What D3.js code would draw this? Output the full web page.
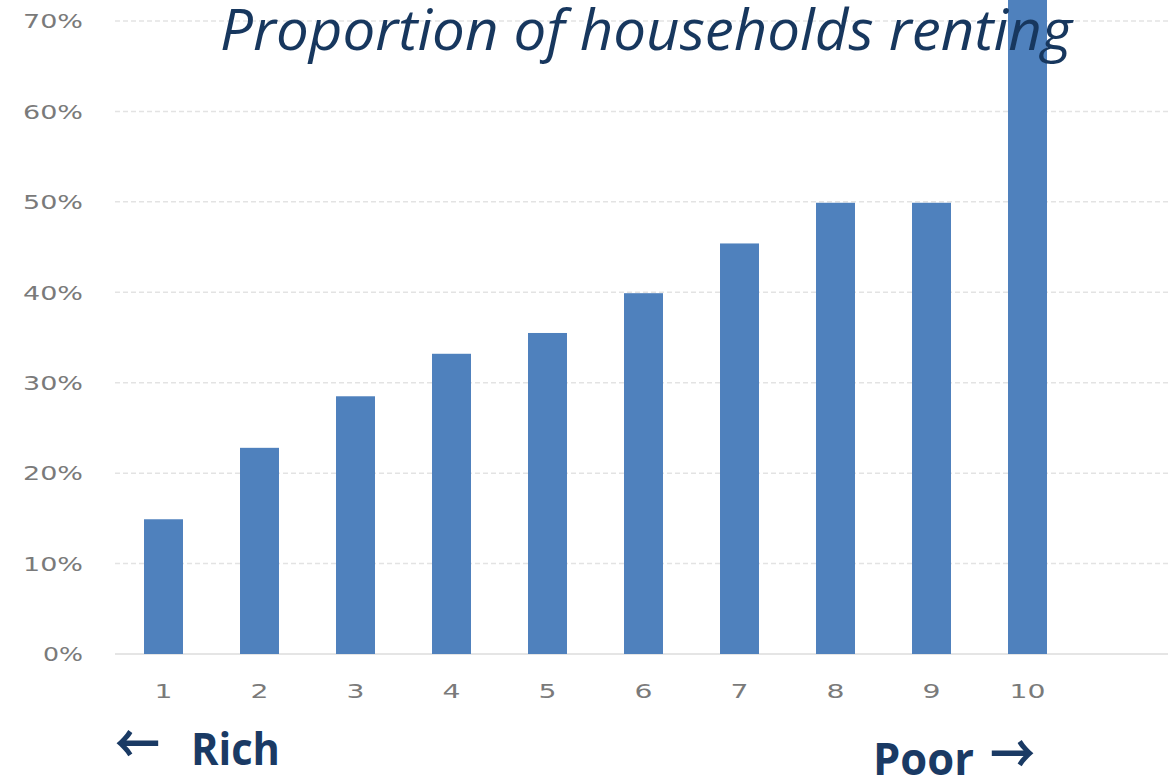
<!DOCTYPE html>
<html>
<head>
<meta charset="utf-8">
<script src="https://cdn.jsdelivr.net/npm/d3@7"></script>
<style>
  html, body { margin: 0; padding: 0; background: #fff; }
  svg { display: block; }
</style>
</head>
<body>
<svg id="chart" width="1168" height="776"></svg>
<script>
// ---- data ----
const categories = ["1", "2", "3", "4", "5", "6", "7", "8", "9", "10"];
const values = [0.149, 0.228, 0.285, 0.332, 0.355, 0.399, 0.454, 0.499, 0.499, 0.76];
const yTicks = [0, 0.1, 0.2, 0.3, 0.4, 0.5, 0.6, 0.7];
const titleText = "Proportion of households renting";
const leftLabel = "Rich";
const rightLabel = "Poor";

const svg = d3.select("#chart");
const W = 1168, H = 776;

const x = d3.scaleBand()
  .domain(categories)
  .range([115.5, 1075.5])
  .paddingInner(0.594)
  .paddingOuter(0.297);

const y = d3.scaleLinear().domain([0, 0.7]).range([654, 21]);

// gridlines
svg.append("g").selectAll("line")
  .data(yTicks.filter(d => d > 0))
  .join("line")
  .attr("x1", 115).attr("x2", W)
  .attr("y1", d => y(d)).attr("y2", d => y(d))
  .attr("stroke", "#e3e3e3")
  .attr("stroke-width", 1.5)
  .attr("stroke-dasharray", "5,3");

// baseline
svg.append("line")
  .attr("x1", 115).attr("x2", W)
  .attr("y1", y(0)).attr("y2", y(0))
  .attr("stroke", "#dcdcdc")
  .attr("stroke-width", 1.5);

// bars
svg.append("g").selectAll("rect")
  .data(values)
  .join("rect")
  .attr("x", (d, i) => x(categories[i]))
  .attr("width", x.bandwidth())
  .attr("y", d => y(d))
  .attr("height", d => y(0) - y(d))
  .attr("fill", "#4f81bd");

// y axis
const yAxis = d3.axisLeft(y)
  .tickValues(yTicks)
  .tickFormat(d3.format(".0%"))
  .tickSize(0)
  .tickPadding(0);
const yg = svg.append("g").attr("transform", "translate(83,0)").call(yAxis);
yg.select(".domain").remove();
yg.selectAll("text")
  .attr("font-family", "DejaVu Sans, sans-serif")
  .attr("font-size", 19)
  .attr("fill", "#7a7a7a")
  .attr("dy", "0.36em")
  .attr("textLength", function() { return this.textContent.length * 20; })
  .attr("lengthAdjust", "spacingAndGlyphs");

// x axis
const xAxis = d3.axisBottom(x).tickSize(0).tickPadding(0);
const xg = svg.append("g").attr("transform", "translate(0,698)").call(xAxis);
xg.select(".domain").remove();
xg.selectAll("text")
  .attr("font-family", "DejaVu Sans, sans-serif")
  .attr("font-size", 19)
  .attr("fill", "#7a7a7a")
  .attr("dy", 0)
  .attr("textLength", function() { return this.textContent.length * 18; })
  .attr("lengthAdjust", "spacingAndGlyphs");

// title
svg.append("text")
  .attr("x", 220).attr("y", 50)
  .attr("font-family", "Open Sans, sans-serif")
  .attr("font-style", "italic")
  .attr("font-size", 56)
  .attr("fill", "#17375e")
  .attr("textLength", 852)
  .attr("lengthAdjust", "spacingAndGlyphs")
  .text(titleText);

// Rich / Poor labels
const navy = "#1a3a64";
const arrowFont = "Noto Sans CJK SC, DejaVu Sans, sans-serif";
svg.append("text")
  .attr("x", 115).attr("y", 764)
  .attr("font-family", arrowFont)
  .attr("font-weight", "bold")
  .attr("font-size", 54)
  .attr("fill", navy)
  .attr("textLength", 45)
  .attr("lengthAdjust", "spacingAndGlyphs")
  .text("\u2190");
svg.append("text")
  .attr("x", 191).attr("y", 765)
  .attr("font-family", "Open Sans, sans-serif")
  .attr("font-weight", "bold")
  .attr("font-size", 45)
  .attr("fill", navy)
  .attr("textLength", 89)
  .attr("lengthAdjust", "spacingAndGlyphs")
  .text(leftLabel);

svg.append("text")
  .attr("x", 873).attr("y", 775)
  .attr("font-family", "Open Sans, sans-serif")
  .attr("font-weight", "bold")
  .attr("font-size", 45)
  .attr("fill", navy)
  .attr("textLength", 101)
  .attr("lengthAdjust", "spacingAndGlyphs")
  .text(rightLabel);
svg.append("text")
  .attr("x", 990).attr("y", 774)
  .attr("font-family", arrowFont)
  .attr("font-weight", "bold")
  .attr("font-size", 54)
  .attr("fill", navy)
  .attr("textLength", 45)
  .attr("lengthAdjust", "spacingAndGlyphs")
  .text("\u2192");
</script>
</body>
</html>
